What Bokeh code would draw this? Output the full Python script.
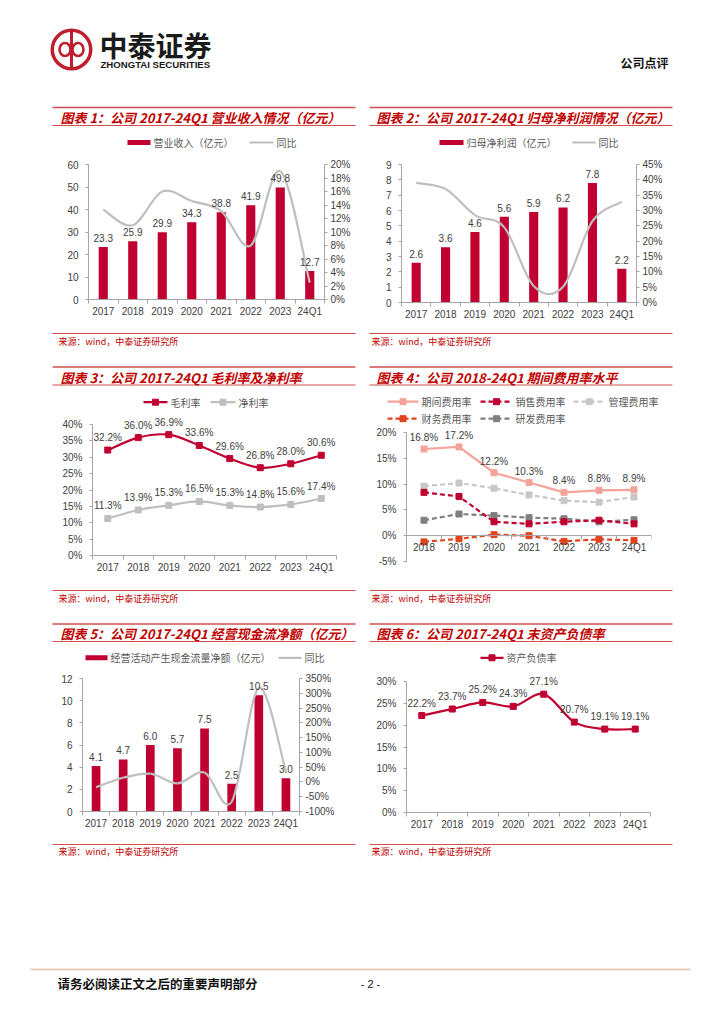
from bokeh.plotting import figure
from bokeh.models import (Range1d, LinearAxis, FixedTicker, PrintfTickFormatter, Spacer,
                          LabelSet, ColumnDataSource)
from bokeh.layouts import column, row
from bokeh.core.properties import value
from bokeh.embed import file_html
from bokeh.resources import INLINE

# ---------------- data ----------------
years8 = ["2017", "2018", "2019", "2020", "2021", "2022", "2023", "24Q1"]
years7 = ["2018", "2019", "2020", "2021", "2022", "2023", "24Q1"]

revenue = [23.3, 25.9, 29.9, 34.3, 38.8, 41.9, 49.8, 12.7]
revenue_yoy = [13.3, 11.0, 16.0, 14.6, 13.1, 8.0, 19.0, 2.5]

profit = [2.6, 3.6, 4.6, 5.6, 5.9, 6.2, 7.8, 2.2]
profit_yoy = [39.0, 37.0, 28.5, 24.5, 5.4, 5.1, 26.5, 32.8]

gross_margin = [32.2, 36.0, 36.9, 33.6, 29.6, 26.8, 28.0, 30.6]
net_margin = [11.3, 13.9, 15.3, 16.5, 15.3, 14.8, 15.6, 17.4]

period_exp = [16.8, 17.2, 12.2, 10.3, 8.4, 8.8, 8.9]
sales_exp = [8.4, 7.6, 2.7, 2.3, 2.7, 3.0, 2.3]
admin_exp = [9.6, 10.2, 9.2, 7.9, 6.8, 6.5, 7.5]
fin_exp = [-1.2, -0.6, 0.2, 0.0, -1.1, -0.7, -0.9]
rd_exp = [3.0, 4.2, 3.9, 3.5, 3.3, 2.7, 3.1]

ocf = [4.1, 4.7, 6.0, 5.7, 7.5, 2.5, 10.5, 3.0]
ocf_yoy = [-18, 14, 28, -5, 32, -67, 318, 35]

debt_ratio = [22.2, 23.7, 25.2, 24.3, 27.1, 20.7, 19.1, 19.1]

titles = [
    "图表 1：公司 2017-24Q1 营业收入情况（亿元）",
    "图表 2：公司 2017-24Q1 归母净利润情况（亿元）",
    "图表 3：公司 2017-24Q1 毛利率及净利率",
    "图表 4：公司 2018-24Q1 期间费用率水平",
    "图表 5：公司 2017-24Q1 经营现金流净额（亿元）",
    "图表 6：公司 2017-24Q1 末资产负债率",
]
source_text = "来源：wind，中泰证券研究所"

# ---------------- style ----------------
CRIMSON = "#C00030"
GRAYLINE = "#BFBFBF"
SALMON = "#F4A39A"
LIGHTGRAY = "#C8C8C8"
ORANGE = "#E2421F"
DARKGRAY = "#808080"
AX = "#A6A6A6"
TXT = "#404040"
LEG = "#595959"
TITLE_RED = "#C00000"
RULE = "#D0504D"
LOGO = "#BE1E2D"
CJK = "Noto Sans CJK SC"
LAT = "Liberation Sans"
PW = 305
PAGE_W = 724


def no_align(p):
    try:
        p.frame_align = False
    except Exception:
        pass
    return p


def deco(px0, y_top, y_bot, width=PW):
    p = figure(width=width, height=y_bot - y_top, title=None,
               x_range=Range1d(px0, px0 + width), y_range=Range1d(y_bot, y_top),
               x_axis_location=None, y_axis_location=None, min_border=0,
               toolbar_location=None, output_backend="svg", outline_line_color=None)
    p.grid.visible = False
    return no_align(p)


def top_panel(px0, y_top, y_bot, line_top, text_y, line_bot, text_dx, title):
    p = deco(px0, y_top, y_bot)
    p.segment(x0=[px0 + 1], y0=[line_top], x1=[px0 + PW - 1], y1=[line_top],
              line_color=RULE, line_width=1.6)
    p.segment(x0=[px0 + 1], y0=[line_bot], x1=[px0 + PW - 1], y1=[line_bot],
              line_color=RULE, line_width=1)
    p.text(x=[px0 + text_dx], y=[text_y], text=[title], text_font=value(CJK),
           text_font_style="bold italic", text_font_size="13px",
           text_color=TITLE_RED, text_baseline="middle")
    return p


def leg_text(p, x, y, label):
    p.text(x=[x], y=[y], text=[label], text_font=value(CJK), text_font_size="10px",
           text_color=LEG, text_baseline="middle")


def key_bar(p, x0, x1, y, label):
    p.rect(x=[(x0 + x1) / 2], y=[y], width=[x1 - x0], height=[5],
           fill_color=CRIMSON, line_color=None)
    leg_text(p, x1 + 3, y, label)


def key_line(p, x0, x1, y, color, label, dash="solid", marker=False, lw=2.2):
    p.segment(x0=[x0], y0=[y], x1=[x1], y1=[y], line_color=color, line_width=lw,
              line_dash=dash)
    if marker:
        p.scatter(x=[(x0 + x1) / 2], y=[y], marker="square", size=6,
                  fill_color=color, line_color=color)
    leg_text(p, x1 + 3, y, label)


def bot_panel(px0, y_top, y_bot, line_y, text_y, text_dx):
    p = deco(px0, y_top, y_bot)
    p.segment(x0=[px0 + 1], y0=[line_y], x1=[px0 + PW - 1], y1=[line_y],
              line_color=RULE, line_width=1)
    p.text(x=[px0 + text_dx], y=[text_y], text=[source_text], text_font=value(CJK),
           text_font_size="9px", text_color=TITLE_RED, text_baseline="middle")
    return p


def style_y(ax, standoff, lo, hi):
    ax.bounds = (lo, hi)
    ax.axis_line_color = AX
    ax.major_tick_line_color = AX
    ax.major_tick_out = 3
    ax.major_tick_in = 0
    ax.minor_tick_line_color = None
    ax.major_label_standoff = standoff
    ax.major_label_text_font = LAT
    ax.major_label_text_font_size = "10px"
    ax.major_label_text_color = TXT


def base_chart(cats, L, W, R, T, fh, ext, B, ylo, yhi, ystep, fmt=None):
    """fh: pixel height from lowest to highest tick; ext: extra frame pixels above
    the top tick (room for data labels)."""
    n = len(cats)
    top = yhi + ext * (yhi - ylo) / fh
    p = figure(width=L + W + R, height=T + fh + ext + B, title=None,
               x_range=Range1d(-0.5, n - 0.5), y_range=Range1d(ylo, top),
               min_border_left=L, min_border_right=R, min_border_top=T,
               min_border_bottom=B, toolbar_location=None, output_backend="svg",
               outline_line_color=None)
    no_align(p)
    p.grid.visible = False
    xa = p.xaxis[0]
    xa.ticker = FixedTicker(ticks=list(range(n)),
                            minor_ticks=[i - 0.5 for i in range(n + 1)])
    xa.major_label_overrides = {i: c for i, c in enumerate(cats)}
    xa.axis_line_color = AX
    xa.major_tick_line_color = None
    xa.major_tick_out = 4
    xa.major_tick_in = 0
    xa.minor_tick_out = 4
    xa.minor_tick_in = 0
    xa.minor_tick_line_color = AX
    xa.major_label_standoff = 2
    xa.major_label_text_font = LAT
    xa.major_label_text_font_size = "10px"
    xa.major_label_text_color = TXT
    ya = p.yaxis[0]
    ya.ticker = FixedTicker(ticks=list(range(ylo, yhi + 1, ystep)))
    if fmt:
        ya.formatter = PrintfTickFormatter(format=fmt)
    style_y(ya, 7, ylo, yhi)
    return p


def add_right(p, lo, hi, step, fmt, fh, ext):
    top = hi + ext * (hi - lo) / fh
    p.extra_y_ranges = {"right": Range1d(lo, top)}
    ax = LinearAxis(y_range_name="right",
                    ticker=FixedTicker(ticks=list(range(lo, hi + 1, step))),
                    formatter=PrintfTickFormatter(format=fmt))
    style_y(ax, 3, lo, hi)
    p.add_layout(ax, "right")


def smooth(p, xs, ys, color, width=2.2, dash="solid", y_range_name="default"):
    n = len(xs)
    x0, y0, x1, y1, cx0, cy0, cx1, cy1 = [], [], [], [], [], [], [], []
    for i in range(n - 1):
        xp, yp = (xs[i - 1], ys[i - 1]) if i > 0 else (xs[i], ys[i])
        xn, yn = (xs[i + 2], ys[i + 2]) if i + 2 < n else (xs[i + 1], ys[i + 1])
        x0.append(xs[i]); y0.append(ys[i])
        x1.append(xs[i + 1]); y1.append(ys[i + 1])
        cx0.append(xs[i] + (xs[i + 1] - xp) / 6.0)
        cy0.append(ys[i] + (ys[i + 1] - yp) / 6.0)
        cx1.append(xs[i + 1] - (xn - xs[i]) / 6.0)
        cy1.append(ys[i + 1] - (yn - ys[i]) / 6.0)
    p.bezier(x0=x0, y0=y0, x1=x1, y1=y1, cx0=cx0, cy0=cy0, cx1=cx1, cy1=cy1,
             line_color=color, line_width=width, line_dash=dash,
             y_range_name=y_range_name)


def markers(p, xs, ys, color):
    p.scatter(x=xs, y=ys, marker="square", size=6, fill_color=color, line_color=color)


def labels(p, xs, ys, fmt, offset):
    src = ColumnDataSource(dict(x=xs, y=ys, t=[fmt.format(v) for v in ys]))
    p.add_layout(LabelSet(x="x", y="y", text="t", source=src, text_align="center",
                          text_baseline="bottom", y_offset=offset,
                          text_font=value(LAT), text_font_size=value("10px"),
                          text_color=TXT))


x8 = list(range(len(years8)))
x7 = list(range(len(years7)))

# ---------------- chart 1 ----------------
LX, RX = 51, 368
t1 = top_panel(LX, 100, 156, 107, 116.5, 125, 9, titles[0])
key_bar(t1, 127, 150, 142, "营业收入（亿元）")
key_line(t1, 249, 273, 142, GRAYLINE, "同比")
p1 = base_chart(years8, 37, 236, 32, 2, 135, 6, 23, 0, 60, 10)
add_right(p1, 0, 20, 2, "%d%%", 135, 6)
p1.vbar(x=x8, top=revenue, width=0.31, fill_color=CRIMSON, line_color=None)
labels(p1, x8, revenue, "{:.1f}", 5)
smooth(p1, x8, revenue_yoy, GRAYLINE, y_range_name="right")
b1 = bot_panel(LX, 322, 355, 333, 341, 7)

# ---------------- chart 2 ----------------
t2 = top_panel(RX, 100, 156, 107, 116.5, 125, 8, titles[1])
key_bar(t2, 439, 463, 142, "归母净利润（亿元）")
key_line(t2, 572, 595, 142, GRAYLINE, "同比")
p2 = base_chart(years8, 33, 235, 37, 2, 138, 6, 20, 0, 9, 1)
add_right(p2, 0, 45, 5, "%d%%", 138, 6)
p2.vbar(x=x8, top=profit, width=0.31, fill_color=CRIMSON, line_color=None)
labels(p2, x8, profit, "{:.1f}", 5)
smooth(p2, x8, profit_yoy, GRAYLINE, y_range_name="right")
b2 = bot_panel(RX, 322, 355, 333, 341, 3)

# ---------------- chart 3 ----------------
t3 = top_panel(LX, 355, 410, 366.5, 376.5, 384.5, 9, titles[2])
key_line(t3, 143, 167, 401.7, CRIMSON, "毛利率", marker=True)
key_line(t3, 210, 235, 401.7, GRAYLINE, "净利率", marker=True)
p3 = base_chart(years8, 41, 244, 20, 2, 131, 12, 25, 0, 40, 5, "%d%%")
smooth(p3, x8, gross_margin, CRIMSON)
markers(p3, x8, gross_margin, CRIMSON)
smooth(p3, x8, net_margin, GRAYLINE)
markers(p3, x8, net_margin, GRAYLINE)
labels(p3, x8, gross_margin, "{:.1f}%", 7)
labels(p3, x8, net_margin, "{:.1f}%", 7)
b3 = bot_panel(LX, 580, 615, 590, 598, 7)

# ---------------- chart 4 ----------------
t4 = top_panel(RX, 355, 426, 366.5, 376.5, 384.5, 8, titles[3])
key_line(t4, 387, 418, 401.2, SALMON, "期间费用率", marker=True)
key_line(t4, 480, 512, 401.2, CRIMSON, "销售费用率", dash="5 3", marker=True)
key_line(t4, 573, 605, 401.2, LIGHTGRAY, "管理费用率", dash="5 3", marker=True)
key_line(t4, 387, 418, 418.2, ORANGE, "财务费用率", dash="5 3", marker=True)
key_line(t4, 480, 512, 418.2, DARKGRAY, "研发费用率", dash="5 3", marker=True)
p4 = base_chart(years7, 38, 245, 22, 0, 129, 6, 19, -5, 20, 5, "%d%%")
p4.xaxis.fixed_location = 0
for ser, col, dash in [(admin_exp, LIGHTGRAY, "5 3"), (rd_exp, DARKGRAY, "5 3"),
                       (fin_exp, ORANGE, "5 3"), (sales_exp, CRIMSON, "5 3"),
                       (period_exp, SALMON, "solid")]:
    p4.line(x=x7, y=ser, line_color=col, line_width=2.2, line_dash=dash)
    markers(p4, x7, ser, col)
labels(p4, x7, period_exp, "{:.1f}%", 6)
b4 = bot_panel(RX, 580, 615, 590, 598, 3)

# ---------------- chart 5 ----------------
t5 = top_panel(LX, 615, 670, 623.5, 633, 641, 9, titles[4])
key_bar(t5, 85, 107, 657.3, "经营活动产生现金流量净额（亿元）")
key_line(t5, 278, 301, 657.3, GRAYLINE, "同比")
p5 = base_chart(years8, 31, 217, 57, 2, 133, 6, 24, 0, 12, 2)
add_right(p5, -100, 350, 50, "%d%%", 133, 6)
p5.vbar(x=x8, top=ocf, width=0.32, fill_color=CRIMSON, line_color=None)
labels(p5, x8, ocf, "{:.1f}", 5)
smooth(p5, x8, ocf_yoy, GRAYLINE, y_range_name="right")
b5 = bot_panel(LX, 835, 870, 844, 851, 7)

# ---------------- chart 6 ----------------
t6 = top_panel(RX, 615, 667, 623.5, 633, 641, 8, titles[5])
key_line(t6, 480, 503, 657.3, CRIMSON, "资产负债率", marker=True)
p6 = base_chart(years8, 38, 244, 23, 2, 131, 12, 23, 0, 30, 5, "%d%%")
smooth(p6, x8, debt_ratio, CRIMSON)
markers(p6, x8, debt_ratio, CRIMSON)
labels(p6, x8, debt_ratio, "{:.1f}%", 7)
b6 = bot_panel(RX, 835, 870, 844, 851, 3)

# ---------------- header / footer ----------------
hdr = deco(0, 0, 100, width=PAGE_W)
hdr.annulus(x=[71], y=[49], inner_radius=17.5, outer_radius=21,
            fill_color=LOGO, line_color=None)
hdr.rect(x=[71], y=[49], width=[3], height=[36], fill_color=LOGO, line_color=None)
hdr.ellipse(x=[64.5, 77.5], y=[49, 49], width=[11, 11], height=[13, 13],
            fill_color=None, line_color=LOGO, line_width=2.6)
hdr.text(x=[99], y=[44], text=["中泰证券"], text_font=value(CJK),
         text_font_style="bold", text_font_size="28px", text_color="#1A1A1A",
         text_baseline="middle")
hdr.text(x=[100], y=[63.5], text=["ZHONGTAI SECURITIES"], text_font=value(LAT),
         text_font_style="bold", text_font_size="9.6px", text_color="#1A1A1A",
         text_baseline="middle")
hdr.text(x=[668], y=[62], text=["公司点评"], text_font=value(CJK),
         text_font_style="bold", text_font_size="12px", text_color="#111111",
         text_baseline="middle", text_align="right")

ftr = deco(0, 870, 1024, width=PAGE_W)
ftr.segment(x0=[30], y0=[969], x1=[690], y1=[969], line_color="#E8CDB8", line_width=2)
ftr.text(x=[57], y=[983], text=["请务必阅读正文之后的重要声明部分"], text_font=value(CJK),
         text_font_style="bold", text_font_size="12.5px", text_color="#111111",
         text_baseline="middle")
ftr.text(x=[370], y=[983], text=["- 2 -"], text_font=value(LAT),
         text_font_size="11px", text_color="#111111", text_baseline="middle",
         text_align="center")


def panel_row(h, a, b):
    return row(Spacer(width=LX, height=h), a, Spacer(width=RX - LX - PW, height=h), b,
               Spacer(width=PAGE_W - RX - PW, height=h))


r1 = panel_row(255, column(t1, p1, b1), column(t2, p2, b2))
r2 = panel_row(260, column(t3, p3, b3), column(t4, p4, b4))
r3 = panel_row(255, column(t5, p5, b5), column(t6, p6, b6))
page = column(hdr, r1, r2, r3, ftr)

open("out.html", "w").write(file_html(page, INLINE))
